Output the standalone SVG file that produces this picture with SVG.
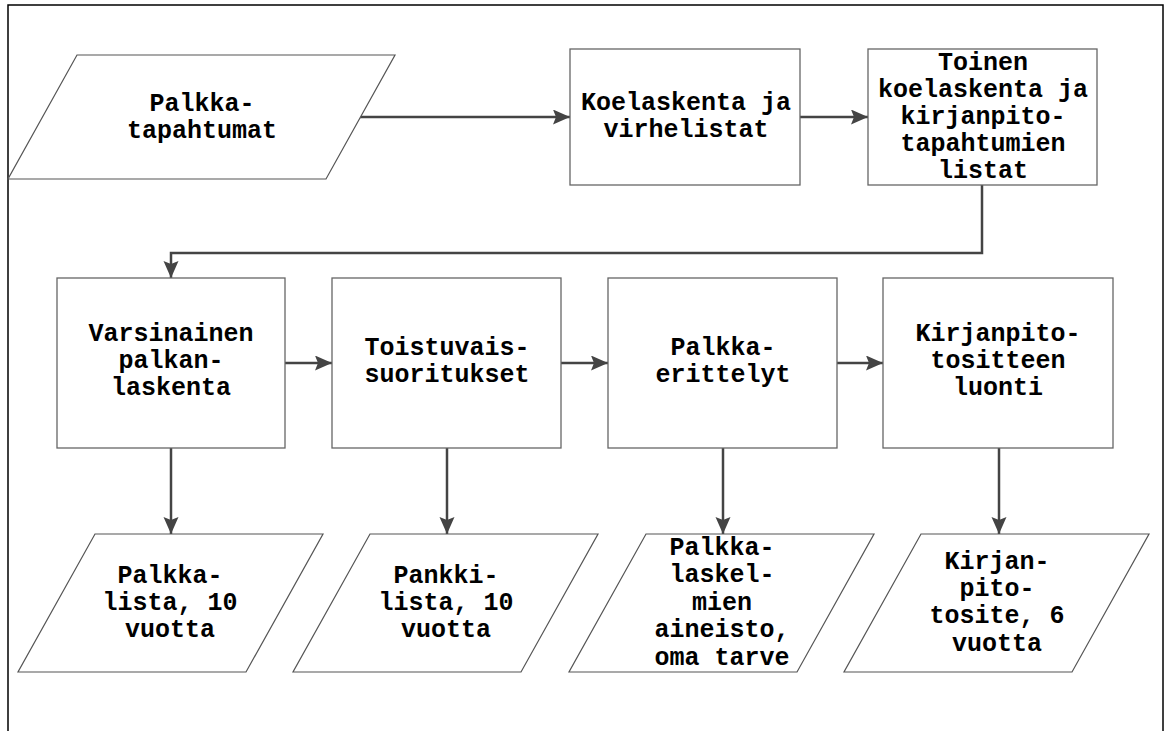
<svg xmlns="http://www.w3.org/2000/svg" width="1168" height="731" viewBox="0 0 1168 731">
<style>
.frame{fill:none;stroke:#000;stroke-width:1.5}
.box{fill:#fff;stroke:#666;stroke-width:1.3}
.io{fill:#fff;stroke:#555;stroke-width:1.2}
.conn{fill:none;stroke:#444;stroke-width:2.5}
.t{font-family:"Liberation Mono","Courier New",monospace;font-weight:bold;font-size:25px;fill:#000;text-anchor:middle}
</style>
<defs>
<marker id="arr" markerUnits="userSpaceOnUse" markerWidth="18" markerHeight="16" refX="17" refY="7.5" orient="auto">
<path d="M0,0 L17,7.5 L0,15 L3,7.5 Z" fill="#444"/>
</marker>
</defs>
<rect width="1168" height="731" fill="#fff"/>
<rect class="frame" x="8" y="5" width="1155" height="740"/>

<g id="connectors">
<path class="conn" d="M360,117 L570,117" marker-end="url(#arr)"/>
<path class="conn" d="M800,117 L868,117" marker-end="url(#arr)"/>
<path class="conn" d="M982,185 L982,253 L171,253 L171,278" marker-end="url(#arr)"/>
<path class="conn" d="M285,363 L332,363" marker-end="url(#arr)"/>
<path class="conn" d="M561,363 L608,363" marker-end="url(#arr)"/>
<path class="conn" d="M837,363 L883,363" marker-end="url(#arr)"/>
<path class="conn" d="M171,448 L171,534" marker-end="url(#arr)"/>
<path class="conn" d="M447,448 L447,534" marker-end="url(#arr)"/>
<path class="conn" d="M723,448 L723,534" marker-end="url(#arr)"/>
<path class="conn" d="M999,448 L999,534" marker-end="url(#arr)"/>
</g>

<g id="palkkatapahtumat">
<polygon class="io" points="77,55 395,55 326,179 8,179"/>
<text class="t" x="202" y="111">Palkka-</text>
<text class="t" x="202" y="138">tapahtumat</text>
</g>

<g id="koelaskenta">
<rect class="box" x="570" y="49" width="230" height="136"/>
<text class="t" x="686" y="110">Koelaskenta ja</text>
<text class="t" x="686" y="137">virhelistat</text>
</g>

<g id="toinen">
<rect class="box" x="868" y="49" width="229" height="136"/>
<text class="t" x="983" y="70">Toinen</text>
<text class="t" x="983" y="97">koelaskenta ja</text>
<text class="t" x="983" y="124">kirjanpito-</text>
<text class="t" x="983" y="151">tapahtumien</text>
<text class="t" x="983" y="178">listat</text>
</g>

<g id="varsinainen">
<rect class="box" x="57" y="278" width="228" height="170"/>
<text class="t" x="171" y="341">Varsinainen</text>
<text class="t" x="171" y="368">palkan-</text>
<text class="t" x="171" y="395">laskenta</text>
</g>

<g id="toistuvais">
<rect class="box" x="332" y="278" width="229" height="170"/>
<text class="t" x="447" y="355">Toistuvais-</text>
<text class="t" x="447" y="382">suoritukset</text>
</g>

<g id="palkkaerittelyt">
<rect class="box" x="608" y="278" width="229" height="170"/>
<text class="t" x="723" y="355">Palkka-</text>
<text class="t" x="723" y="382">erittelyt</text>
</g>

<g id="kirjanpitotositteen">
<rect class="box" x="883" y="278" width="230" height="170"/>
<text class="t" x="998" y="341">Kirjanpito-</text>
<text class="t" x="998" y="368">tositteen</text>
<text class="t" x="998" y="395">luonti</text>
</g>

<g id="palkkalista">
<polygon class="io" points="95,534 323,534 246,672 18,672"/>
<text class="t" x="170" y="583">Palkka-</text>
<text class="t" x="170" y="610">lista, 10</text>
<text class="t" x="170" y="637">vuotta</text>
</g>

<g id="pankkilista">
<polygon class="io" points="370,534 598,534 521,672 293,672"/>
<text class="t" x="446" y="583">Pankki-</text>
<text class="t" x="446" y="610">lista, 10</text>
<text class="t" x="446" y="637">vuotta</text>
</g>

<g id="palkkalaskelmien">
<polygon class="io" points="646,534 874,534 797,672 569,672"/>
<text class="t" x="722" y="555">Palkka-</text>
<text class="t" x="722" y="582">laskel-</text>
<text class="t" x="722" y="610">mien</text>
<text class="t" x="722" y="637">aineisto,</text>
<text class="t" x="722" y="665">oma tarve</text>
</g>

<g id="kirjanpitotosite">
<polygon class="io" points="921,534 1149,534 1072,672 844,672"/>
<text class="t" x="997" y="569">Kirjan-</text>
<text class="t" x="997" y="596">pito-</text>
<text class="t" x="997" y="623">tosite, 6</text>
<text class="t" x="997" y="651">vuotta</text>
</g>
</svg>
